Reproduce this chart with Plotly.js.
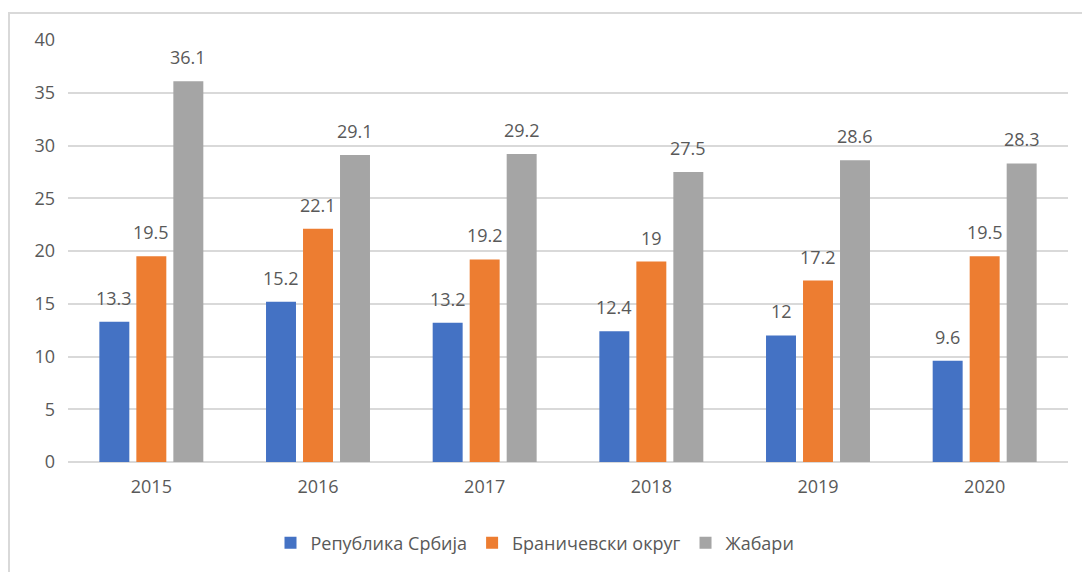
<!DOCTYPE html>
<html>
<head>
<meta charset="utf-8">
<script src="https://cdn.plot.ly/plotly-3.0.1.min.js"></script>
<style>
  html, body { margin: 0; padding: 0; background: #ffffff; }
  #wrap { position: relative; width: 1082px; height: 572px; overflow: hidden; }
  #frame { position: absolute; left: 8px; top: 12px; width: 1200px; height: 700px;
           border-left: 2px solid #d9d9d9; border-top: 2px solid #d9d9d9; pointer-events: none; }
  #chart { position: absolute; left: 0; top: 0; width: 1082px; height: 572px; }
</style>
</head>
<body>
<div id="wrap">
  <div id="chart"></div>
  <div id="frame"></div>
</div>
<script>
const years = ['2015', '2016', '2017', '2018', '2019', '2020'];
const seriesNames = ['Република Србија', 'Браничевски округ', 'Жабари'];
const serbia = [13.3, 15.2, 13.2, 12.4, 12, 9.6];
const branicevo = [19.5, 22.1, 19.2, 19, 17.2, 19.5];
const zabari = [36.1, 29.1, 29.2, 27.5, 28.6, 28.3];
const yTicks = [0, 5, 10, 15, 20, 25, 30, 35, 40];

const colors = ['#4472C4', '#ED7D31', '#A5A5A5'];
const allSeries = [serbia, branicevo, zabari];
const fontFam = 'Open Sans, Liberation Sans, sans-serif';
const txtColor = '#595959';

const traces = allSeries.map((vals, i) => ({
  type: 'bar',
  name: seriesNames[i],
  x: years,
  y: vals,
  marker: { color: colors[i] },
  hoverinfo: 'x+y+name'
}));

// data labels above each bar, positioned by the category axis (index) with the bar's group offset
const slotPx = 37;
const annotations = [];
allSeries.forEach((vals, i) => {
  vals.forEach((v, j) => {
    annotations.push({
      x: j, y: v, xref: 'x', yref: 'y',
      text: String(v), showarrow: false,
      xshift: (i - 1) * slotPx, yshift: 24,
      yanchor: 'middle', xanchor: 'center',
      font: { family: fontFam, size: 18, color: txtColor }
    });
  });
});

const layout = {
  width: 1082, height: 572,
  margin: { l: 68, r: 14, t: 40, b: 109 },
  paper_bgcolor: 'rgba(0,0,0,0)',
  plot_bgcolor: '#ffffff',
  barmode: 'group',
  bargap: 0.334,
  bargroupgap: 0.19,
  showlegend: true,
  legend: {
    orientation: 'h', x: 0.467, xanchor: 'center', y: -0.189, yanchor: 'middle',
    font: { family: fontFam, size: 18, color: txtColor },
    itemclick: false, itemdoubleclick: false
  },
  xaxis: {
    type: 'category',
    range: [-0.5, years.length - 0.5],
    showgrid: false, zeroline: false, showline: false,
    ticks: '',
    tickfont: { family: fontFam, size: 18, color: txtColor },
    ticklabelstandoff: 12
  },
  yaxis: {
    range: [0, 40],
    tickvals: yTicks,
    ticktext: yTicks.map(String),
    showgrid: true, gridcolor: '#d9d9d9', gridwidth: 1.5,
    zeroline: true, zerolinecolor: '#d9d9d9', zerolinewidth: 1.5,
    showline: false, ticks: '',
    tickfont: { family: fontFam, size: 18, color: txtColor },
    ticklabelstandoff: 12
  },
  annotations: annotations
};

Plotly.newPlot('chart', traces, layout, { displayModeBar: false });
</script>
</body>
</html>
